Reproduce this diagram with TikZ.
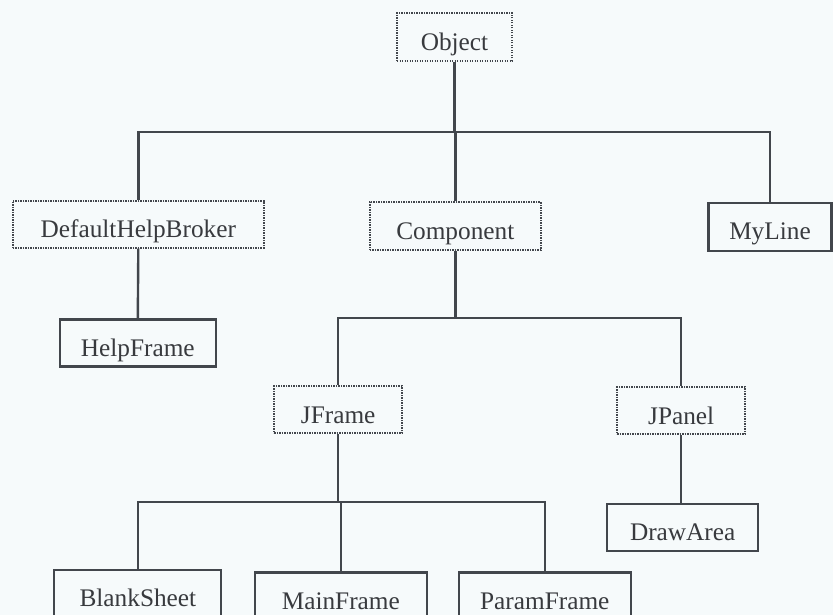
\documentclass[tikz,border=0pt]{standalone}
\usepackage{fontspec}
\setmainfont{Liberation Serif}
\definecolor{paper}{RGB}{246,250,251}
\definecolor{ink}{RGB}{66,70,76}
\definecolor{txt}{RGB}{56,58,62}
\begin{document}
\begin{tikzpicture}[x=1pt,y=-1pt,
  cls/.style={rectangle,inner sep=0pt,text=txt,text height=27pt,text depth=0.6pt,
    font=\fontsize{25.3}{28}\selectfont},
  solidcls/.style={cls,draw=ink,line width=2.1pt},
  dotcls/.style={cls,draw=ink,line width=1.8pt,dash pattern=on 1.4pt off 1.1pt},
  link/.style={draw=ink,line width=2.4pt}]
  % page and background
  \fill[paper] (0,0) rectangle (833,615);
  \useasboundingbox (0,0) rectangle (833,615);

  % classes
  \node[dotcls,minimum width=115,minimum height=48] (obj) at (454.5,37) {Object};
  \node[dotcls,minimum width=251,minimum height=47] (dhb) at (138.3,224.2) {DefaultHelpBroker};
  \node[dotcls,minimum width=171,minimum height=48] (comp) at (455.3,226) {Component};
  \node[solidcls,minimum width=123,minimum height=48] (myline) at (770,226.7) {MyLine};
  \node[solidcls,minimum width=156,minimum height=47] (help) at (137.8,343) {HelpFrame};
  \node[dotcls,minimum width=128,minimum height=47] (jframe) at (338.2,409.8) {JFrame};
  \node[dotcls,minimum width=128,minimum height=47] (jpanel) at (681.2,410.8) {JPanel};
  \node[solidcls,minimum width=151,minimum height=47] (draw) at (682.7,527.2) {DrawArea};
  \node[solidcls,minimum width=167,minimum height=47] (blank) at (137.9,593.5) {BlankSheet};
  \node[solidcls,minimum width=172,minimum height=47] (mainf) at (340.8,596) {MainFrame};
  \node[solidcls,minimum width=172,minimum height=47] (param) at (544.8,596) {ParamFrame};

  % junction points of the inheritance bars
  \coordinate (b1) at (obj.south |- 0,132);
  \coordinate (b2) at (comp.south |- 0,318);
  \coordinate (b3) at (jframe.south |- 0,502);

  % Object subtree
  \draw[link] (obj.south) -- (b1);
  \draw[link] (b1) -| (dhb.north);
  \draw[link] (b1) -| (myline.north);
  \draw[link] (b1) -| (comp.north);
  \draw[link] (dhb.south) -- (help.north);

  % Component subtree
  \draw[link] (comp.south) -- (b2);
  \draw[link] (b2) -| (jframe.north);
  \draw[link] (b2) -| (jpanel.north);
  \draw[link] (jpanel.south) -- (jpanel.south |- draw.north);

  % JFrame subtree
  \draw[link] (jframe.south) -- (b3);
  \draw[link] (b3) -| (blank.north);
  \draw[link] (b3) -| (mainf.north);
  \draw[link] (b3) -| (param.north);
\end{tikzpicture}
\end{document}
